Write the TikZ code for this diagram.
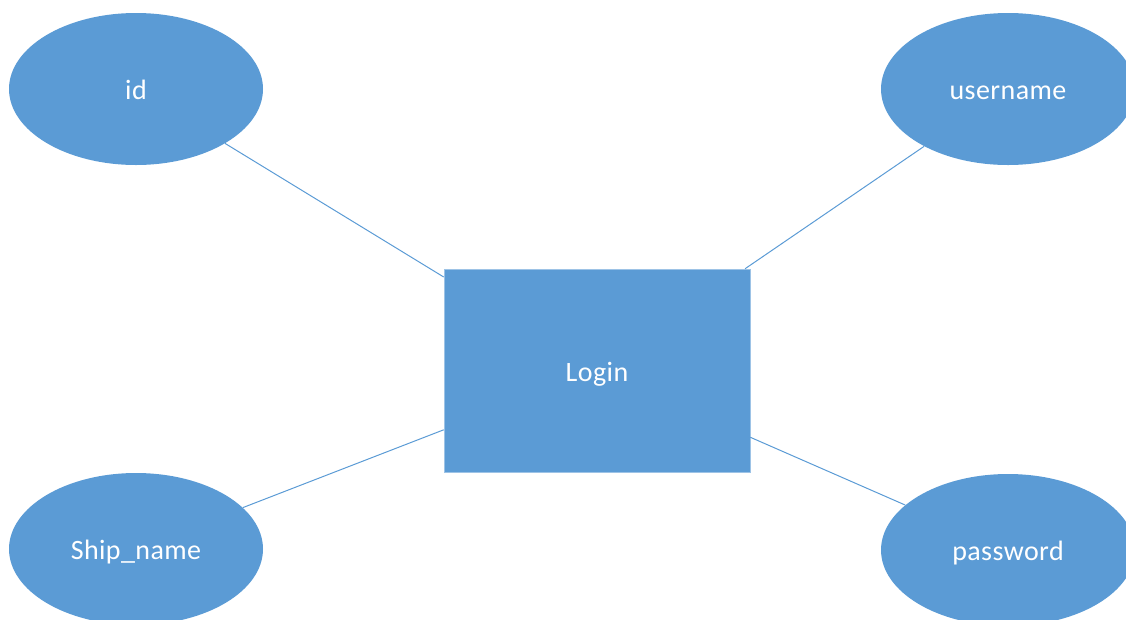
\documentclass[tikz,border=0pt]{standalone}
\usepackage{fontspec}
\setmainfont{Carlito}[LetterSpace=1.5]
\usetikzlibrary{shapes.geometric}
\definecolor{officeblue}{HTML}{5B9BD5}
\tikzset{
  lbl/.style={text=white, font=\fontsize{28}{32}\selectfont, text height=21pt, text depth=0pt},
  attr/.style={ellipse, fill=officeblue, draw=none, inner sep=0pt, minimum width=254pt, minimum height=152pt, lbl},
  entity/.style={rectangle, fill=officeblue, draw=officeblue!60!white, line width=0.6pt, inner sep=0pt, minimum width=306pt, minimum height=203pt, lbl},
  conn/.style={draw=officeblue, line width=1pt}
}
\begin{document}
\begin{tikzpicture}[x=1pt,y=-1pt]
\useasboundingbox (0,0) rectangle (1126,619);
\node[entity] (login) at (597,370.5) {Login};
\node[attr] (id) at (136,89) {id};
\node[attr] (username) at (1008,89) {username};
\node[attr] (ship) at (136,549) {Ship\_name};
\node[attr] (password) at (1008,550) {password};
\draw[conn] (id) -- (login);
\draw[conn] (username) -- (login);
\draw[conn] (ship) -- (login);
\draw[conn] (password) -- (login);
\end{tikzpicture}
\end{document}
